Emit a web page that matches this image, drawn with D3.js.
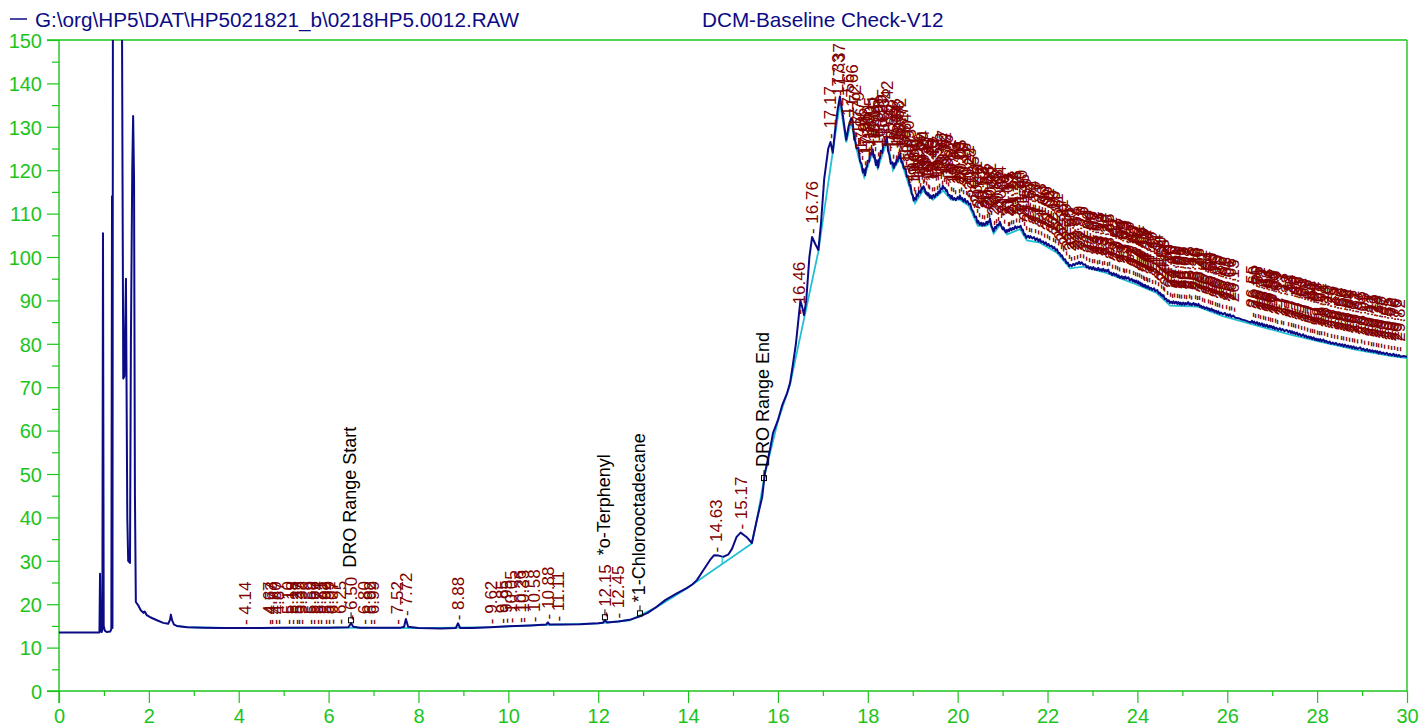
<!DOCTYPE html>
<html>
<head>
<meta charset="utf-8">
<script src="https://cdn.jsdelivr.net/npm/d3@7"></script>
<style>
  body { margin: 0; background: #fff; }
  svg { display: block; font-family: "Liberation Sans", Arial, sans-serif; }
</style>
</head>
<body>
<svg id="chart" width="1420" height="727"></svg>
<script>
// ---- header texts ----
const fileName = "G:\\org\\HP5\\DAT\\HP5021821_b\\0218HP5.0012.RAW";
const methodName = "DCM-Baseline Check-V12";

// ---- axis ticks ----
const xMajorTicks = d3.range(0, 31, 2);
const xMinorTicks = d3.range(1, 30, 2);
const yMajorTicks = d3.range(0, 151, 10);
const yMinorTicks = d3.range(5, 150, 10);

// ---- detector signal: [retention time (min), response] ----
const signal = [
  [0, 13.5], [0.90, 13.5], [0.913, 27], [0.93, 13.8], [0.95, 13.6], [0.965, 14.2], [0.979, 105.5],
  [0.995, 15], [1.02, 13.9], [1.06, 13.6], [1.14, 13.7], [1.165, 14.3], [1.18, 114], [1.19, 14.5],
  [1.20, 160], [1.40, 160], [1.43, 72], [1.455, 72.5], [1.49, 95], [1.52, 40], [1.54, 30],
  [1.58, 29.5], [1.60, 80], [1.63, 120], [1.65, 132.5], [1.67, 118], [1.69, 45], [1.71, 20.5],
  [1.76, 19.8], [1.82, 18.6], [1.88, 18.0], [1.91, 18.3], [1.95, 17.5], [2.03, 17.0], [2.18, 16.3],
  [2.32, 15.7], [2.43, 15.5], [2.47, 16.4], [2.49, 17.6], [2.52, 16.2], [2.56, 15.3], [2.62, 15.0],
  [2.85, 14.7], [3.2, 14.6], [3.6, 14.5], [4.0, 14.5], [4.5, 14.5], [5.0, 14.6], [5.5, 14.6],
  [6.0, 14.6], [6.44, 14.7], [6.50, 15.6], [6.55, 14.8], [6.7, 14.6], [7.2, 14.6], [7.6, 14.6],
  [7.68, 14.8], [7.72, 16.6], [7.77, 14.8], [8.0, 14.5], [8.5, 14.4], [8.83, 14.5], [8.88, 15.6],
  [8.93, 14.5], [9.2, 14.5], [9.6, 14.7], [10.0, 14.9], [10.5, 15.1], [10.84, 15.3], [10.88, 15.8],
  [10.92, 15.3], [11.2, 15.3], [11.6, 15.4], [12.0, 15.6], [12.1, 15.7], [12.15, 16.3], [12.2, 15.8],
  [12.45, 16.0], [12.7, 16.4], [12.93, 17.2], [13.1, 18.0], [13.3, 19.4], [13.5, 21.0], [13.75, 22.5],
  [13.97, 23.7], [14.1, 24.6], [14.2, 25.6], [14.35, 28.0], [14.49, 30.2], [14.58, 31.3], [14.68, 31.2],
  [14.78, 30.9], [14.9, 31.5], [14.98, 32.8], [15.08, 35.5], [15.17, 36.5], [15.3, 35.5], [15.42, 34.1],
  [15.53, 39.4], [15.65, 44.7], [15.71, 50.2], [15.82, 55.5], [15.89, 59.4], [16.0, 62.4], [16.1, 66.0],
  [16.2, 68.5], [16.27, 71.0], [16.33, 75.0], [16.40, 80.0], [16.46, 86.0], [16.50, 90.0], [16.54, 88.5],
  [16.58, 86.6], [16.63, 90.0], [16.7, 100.0], [16.76, 104.6], [16.83, 103.0], [16.9, 101.6], [16.96, 108.0],
  [17.03, 118.0], [17.12, 125.0], [17.17, 126.5], [17.22, 124.0], [17.27, 129.0], [17.33, 134.0],
  [17.38, 137.0], [17.44, 133.0], [17.52, 127.0], [17.57, 130.0], [17.63, 132.0], [17.66, 131.5],
  [17.70, 127.0], [17.72, 126.8], [17.75, 125.0], [17.79, 125.2], [17.83, 122.0], [17.86, 121.5],
  [17.89, 119.5], [17.91, 120.2], [17.94, 118.8], [17.96, 120.5], [17.98, 120.8], [18.00, 122.2],
  [18.03, 122.0], [18.05, 124.0], [18.08, 123.6], [18.11, 124.8], [18.13, 123.0], [18.15, 123.5],
  [18.18, 121.2], [18.20, 122.3], [18.23, 120.6], [18.25, 122.4], [18.27, 122.8], [18.29, 124.5],
  [18.32, 124.0], [18.35, 126.0], [18.39, 125.8], [18.42, 127.8], [18.45, 124.5], [18.48, 123.5],
  [18.51, 121.5], [18.55, 121.8], [18.58, 120.5], [18.60, 121.6], [18.62, 121.3], [18.64, 122.4],
  [18.66, 122.0], [18.68, 123.2], [18.70, 122.8], [18.72, 123.8], [18.75, 121.8], [18.77, 122.0],
  [18.80, 120.5], [18.84, 120.2], [18.87, 118.5], [18.90, 118.6], [18.93, 116.5], [18.95, 116.6],
  [18.98, 114.5], [19.00, 114.3], [19.02, 113.0], [19.04, 113.6], [19.07, 113.2], [19.09, 114.4],
  [19.11, 114.0], [19.14, 115.2], [19.17, 114.8], [19.20, 116.0], [19.22, 115.6], [19.24, 116.3],
  [19.27, 115.6], [19.29, 114.6], [19.31, 114.9], [19.33, 114.2], [19.35, 114.7], [19.38, 113.6],
  [19.40, 114.2], [19.43, 113.5], [19.46, 114.3], [19.49, 113.8], [19.52, 114.6], [19.55, 114.3],
  [19.57, 115.1], [19.60, 114.8], [19.62, 115.8], [19.65, 115.6], [19.67, 116.4], [19.70, 115.8],
  [19.72, 115.9], [19.74, 115.2], [19.76, 115.4], [19.79, 114.2], [19.82, 114.3], [19.85, 113.5],
  [19.87, 114.1], [19.90, 113.2], [19.93, 113.6], [19.96, 113.1], [20.00, 113.8], [20.03, 113.4],
  [20.05, 114.2], [20.08, 113.3], [20.10, 113.6], [20.13, 112.8], [20.16, 113.4], [20.19, 112.5],
  [20.22, 112.9], [20.25, 112.1], [20.28, 112.3], [20.31, 111.0], [20.35, 110.4], [20.38, 109.2],
  [20.41, 109.3], [20.44, 107.9], [20.46, 108.3], [20.49, 107.4], [20.52, 107.9], [20.55, 107.2],
  [20.57, 107.8], [20.60, 107.3], [20.64, 108.1], [20.66, 107.6], [20.68, 108.2], [20.70, 108.1],
  [20.72, 108.8], [20.75, 107.2], [20.78, 106.5], [20.80, 105.9], [20.83, 106.9], [20.85, 106.6],
  [20.88, 107.4], [20.91, 107.3], [20.94, 108.1], [20.97, 107.2], [21.00, 106.4], [21.02, 106.8],
  [21.05, 106.1], [21.07, 105.7], [21.09, 106.2], [21.11, 105.8], [21.13, 106.3], [21.15, 106.0],
  [21.17, 106.6], [21.20, 106.2], [21.22, 106.7], [21.25, 106.4], [21.28, 107.1], [21.31, 106.6],
  [21.34, 107.0], [21.37, 106.8], [21.40, 107.2], [21.43, 106.2], [21.45, 106.3], [21.48, 105.1],
  [21.50, 105.3], [21.53, 104.4], [21.57, 104.9], [21.60, 104.4], [21.62, 104.8], [21.66, 104.3],
  [21.70, 104.6], [21.73, 103.9], [21.77, 104.3], [21.80, 103.6], [21.83, 104.1], [21.86, 103.4],
  [21.90, 103.6], [21.93, 103.0], [21.96, 103.4], [21.99, 102.7], [22.02, 103.0], [22.05, 102.4],
  [22.09, 102.6], [22.12, 102.0], [22.15, 102.3], [22.18, 101.5], [22.21, 101.8], [22.24, 100.9],
  [22.27, 100.9], [22.30, 100.2], [22.32, 100.4], [22.36, 99.4], [22.39, 99.5], [22.42, 98.6],
  [22.45, 98.7], [22.48, 97.9], [22.50, 98.2], [22.54, 97.9], [22.57, 98.4], [22.60, 98.1],
  [22.64, 98.6], [22.67, 98.4], [22.70, 98.9], [22.73, 98.4], [22.76, 98.8], [22.80, 98.2],
  [22.84, 98.3], [22.87, 97.6], [22.90, 97.9], [22.93, 97.3], [22.96, 97.7], [22.99, 97.2],
  [23.02, 97.7], [23.05, 97.1], [23.07, 97.4], [23.10, 97.0], [23.13, 97.5], [23.16, 96.9],
  [23.19, 97.2], [23.21, 96.8], [23.24, 97.3], [23.27, 96.7], [23.30, 97.0], [23.32, 96.7],
  [23.35, 97.1], [23.38, 96.2], [23.41, 96.4], [23.44, 95.8], [23.47, 96.3], [23.50, 95.8],
  [23.53, 96.1], [23.56, 95.4], [23.58, 95.8], [23.61, 95.2], [23.65, 95.6], [23.67, 95.1],
  [23.69, 95.4], [23.71, 95.0], [23.73, 95.5], [23.76, 95.0], [23.80, 95.3], [23.83, 94.6],
  [23.87, 95.0], [23.90, 94.4], [23.92, 94.7], [23.95, 94.2], [23.97, 94.6], [24.00, 94.0],
  [24.02, 94.4], [24.04, 93.8], [24.06, 94.1], [24.08, 93.5], [24.10, 93.9], [24.12, 93.3],
  [24.13, 93.6], [24.15, 93.2], [24.17, 93.6], [24.19, 93.0], [24.20, 93.3], [24.22, 92.9],
  [24.24, 93.3], [24.27, 92.6], [24.30, 92.9], [24.33, 92.4], [24.37, 92.8], [24.40, 92.1],
  [24.44, 92.4], [24.47, 91.6], [24.50, 91.8], [24.52, 91.2], [24.54, 91.4], [24.56, 90.9],
  [24.58, 91.2], [24.61, 90.3], [24.64, 90.4], [24.67, 89.8], [24.70, 90.0], [24.72, 89.4],
  [24.75, 89.7], [24.78, 89.3], [24.80, 89.8], [24.83, 89.3], [24.86, 89.7], [24.89, 89.2],
  [24.91, 89.6], [24.94, 89.1], [24.96, 89.5], [24.99, 89.0], [25.02, 89.5], [25.05, 89.0],
  [25.07, 89.4], [25.10, 89.1], [25.13, 89.6], [25.16, 89.0], [25.18, 89.3], [25.21, 88.9],
  [25.25, 89.4], [25.28, 88.9], [25.30, 89.2], [25.33, 88.8], [25.36, 89.2], [25.39, 88.5],
  [25.41, 88.8], [25.44, 88.3], [25.47, 88.6], [25.50, 88.1], [25.54, 88.4], [25.57, 87.9],
  [25.59, 88.2], [25.62, 87.7], [25.65, 88.1], [25.67, 87.6], [25.70, 87.8], [25.72, 87.3],
  [25.75, 87.6], [25.78, 87.1], [25.80, 87.5], [25.83, 86.9], [25.86, 87.2], [25.90, 86.8],
  [25.95, 87.1], [25.98, 86.5], [26.01, 86.8], [26.03, 86.4], [26.06, 86.8], [26.09, 86.2],
  [26.13, 86.5], [26.18, 86.0], [26.25, 85.9], [26.32, 85.6], [26.40, 85.4], [26.47, 85.1],
  [26.52, 84.9], [26.55, 85.3], [26.58, 84.8], [26.60, 85.1], [26.63, 84.6], [26.66, 85.0],
  [26.69, 84.4], [26.71, 84.8], [26.74, 84.3], [26.77, 84.7], [26.80, 84.1], [26.82, 84.5],
  [26.85, 84.0], [26.88, 84.4], [26.91, 83.8], [26.94, 84.2], [26.96, 83.8], [26.98, 84.1],
  [27.01, 83.6], [27.03, 84.0], [27.06, 83.4], [27.09, 83.7], [27.13, 83.2], [27.17, 83.6],
  [27.20, 83.1], [27.23, 83.4], [27.27, 82.9], [27.32, 83.2], [27.36, 82.7], [27.39, 83.0],
  [27.42, 82.5], [27.44, 82.9], [27.47, 82.4], [27.49, 82.7], [27.52, 82.2], [27.55, 82.6],
  [27.58, 82.0], [27.61, 82.3], [27.65, 81.8], [27.69, 82.2], [27.72, 81.6], [27.75, 81.9],
  [27.78, 81.4], [27.81, 81.7], [27.84, 81.3], [27.86, 81.6], [27.89, 81.1], [27.92, 81.5],
  [27.95, 80.9], [27.98, 81.2], [28.00, 80.8], [28.02, 81.1], [28.05, 80.7], [28.07, 81.1],
  [28.10, 80.6], [28.14, 81.0], [28.17, 80.4], [28.20, 80.7], [28.24, 80.2], [28.28, 80.5],
  [28.31, 80.0], [28.35, 80.3], [28.38, 79.9], [28.42, 80.2], [28.46, 79.7], [28.50, 80.0],
  [28.53, 79.6], [28.56, 79.9], [28.59, 79.4], [28.62, 79.8], [28.66, 79.3], [28.69, 79.6],
  [28.72, 79.2], [28.75, 79.5], [28.78, 79.0], [28.81, 79.4], [28.84, 78.9], [28.87, 79.2],
  [28.90, 78.8], [28.93, 79.0], [28.96, 79.2], [28.99, 78.6], [29.03, 78.9], [29.07, 78.4],
  [29.11, 78.8], [29.14, 78.3], [29.17, 78.6], [29.20, 78.2], [29.23, 78.5], [29.26, 78.1],
  [29.29, 78.4], [29.32, 78.0], [29.34, 78.3], [29.37, 77.8], [29.40, 78.2], [29.44, 77.7],
  [29.47, 78.0], [29.51, 77.6], [29.55, 77.9], [29.59, 77.4], [29.62, 77.7], [29.66, 77.3],
  [29.70, 77.7], [29.73, 77.2], [29.76, 77.5], [29.79, 77.1], [29.82, 77.4], [29.86, 77.0],
  [29.92, 77.2], [30.00, 77.0]
];

// ---- integration baseline ----
const baseline = [
  [2.62, 15.0], [2.85, 14.7], [4.0, 14.5], [6.0, 14.6], [8.0, 14.5], [9.6, 14.7], [10.5, 15.1],
  [12.0, 15.6], [12.7, 16.3], [13.3, 19.3], [13.97, 23.6], [15.42, 34.0], [15.53, 39.3],
  [15.71, 50.0], [16.0, 62.2], [16.27, 70.6], [16.9, 101.3], [17.38, 135.6], [17.52, 126.4],
  [17.63, 131.2], [17.78, 123.5], [17.92, 118.4], [18.10, 123.9], [18.22, 120.4], [18.43, 126.8],
  [18.56, 120.0], [18.72, 122.8], [18.95, 115.4], [19.05, 112.4], [19.23, 115.3], [19.45, 113.2],
  [19.68, 115.3], [19.85, 113.2], [20.05, 113.2], [20.25, 111.8], [20.45, 107.2], [20.64, 107.2],
  [20.72, 107.8], [20.80, 105.4], [20.94, 107.4], [21.10, 105.2], [21.39, 106.4], [21.54, 103.8],
  [21.83, 103.3], [22.21, 101.0], [22.50, 97.4], [22.80, 97.8], [23.32, 96.3], [23.90, 94.0],
  [24.43, 91.7], [24.73, 88.8], [25.33, 88.6], [25.90, 86.4], [26.66, 84.2], [27.40, 82.1],
  [28.13, 80.3], [28.88, 78.6], [29.62, 77.2], [30.00, 76.7]
];

// ---- integrated peak retention times (min) ----
const peakTimes = [
  4.14, 4.67, 4.73, 4.80, 4.87, 5.10, 5.18, 5.27, 5.33, 5.38, 5.59, 5.66, 5.74, 5.81, 5.92, 5.99,
  6.07, 6.25, 6.50, 6.80, 6.92, 6.99, 7.52, 7.72, 8.88, 9.62, 9.85, 9.95, 10.05, 10.26, 10.33,
  10.58, 10.88, 11.11, 12.15, 12.45, 14.63, 15.17,
  16.46, 16.76, 17.17, 17.33, 17.37, 17.56, 17.66, 17.72, 17.79, 17.86, 17.91, 17.96, 18.00,
  18.05, 18.11, 18.15, 18.20, 18.25, 18.29, 18.35, 18.42, 18.48, 18.55, 18.60, 18.64, 18.68,
  18.72, 18.77, 18.84, 18.90, 18.95, 19.00, 19.04, 19.09, 19.14, 19.20, 19.24, 19.27, 19.31,
  19.35, 19.40, 19.46, 19.52, 19.57, 19.62, 19.67, 19.72, 19.76, 19.82, 19.87, 19.93, 20.00,
  20.05, 20.10, 20.16, 20.22, 20.28, 20.35, 20.41, 20.46, 20.52, 20.57, 20.64, 20.68, 20.72,
  20.78, 20.83, 20.88, 20.94, 21.02, 21.09, 21.13, 21.17, 21.22, 21.28, 21.34, 21.40, 21.45,
  21.50, 21.57, 21.62, 21.70, 21.77, 21.83, 21.90, 21.96, 22.02, 22.09, 22.15, 22.21, 22.27,
  22.32, 22.39, 22.45, 22.50, 22.57, 22.64, 22.70, 22.76, 22.84, 22.90, 22.96, 23.02, 23.07,
  23.13, 23.19, 23.24, 23.30, 23.35, 23.41, 23.47, 23.53, 23.58, 23.65, 23.69, 23.73, 23.80,
  23.87, 23.92, 23.97, 24.02, 24.06, 24.10, 24.13, 24.17, 24.20, 24.24, 24.30, 24.37, 24.44,
  24.50, 24.54, 24.58, 24.64, 24.70, 24.75, 24.80, 24.86, 24.91, 24.96, 25.02, 25.07, 25.13,
  25.18, 25.25, 25.30, 25.36, 25.41, 25.47, 25.54, 25.59, 25.65, 25.70, 25.75, 25.80, 25.86,
  25.95, 26.01, 26.06, 26.13, 26.55, 26.60, 26.66, 26.71, 26.77, 26.82, 26.88, 26.94, 26.98,
  27.03, 27.09, 27.17, 27.23, 27.32, 27.39, 27.44, 27.49, 27.55, 27.61, 27.69, 27.75, 27.81,
  27.86, 27.92, 27.98, 28.02, 28.07, 28.14, 28.20, 28.28, 28.35, 28.42, 28.50, 28.56, 28.62,
  28.69, 28.75, 28.81, 28.87, 28.96, 29.03, 29.11, 29.17, 29.23, 29.29, 29.34, 29.40, 29.47,
  29.55, 29.62, 29.70, 29.76, 29.82
];

// ---- named events ----
const eventTimes = [6.50, 12.15, 12.93, 15.69];
const eventNames = ["DRO Range Start", "*o-Terphenyl", "*1-Chlorooctadecane", "DRO Range End"];

// ---- layout ----
const svg = d3.select("#chart");
const plotLeft = 59, plotRight = 1407, plotTop = 40, plotBottom = 691;
const green = "#1cc41c", navy = "#0b0b86", cyan = "#22c0d2", maroon = "#800000";

const x = d3.scaleLinear().domain([0, 30]).range([plotLeft, plotRight]);
const y = d3.scaleLinear().domain([0, 150]).range([plotBottom, plotTop]);

const bis = d3.bisector(d => d[0]).left;
function traceAt(t) {
  const i = bis(signal, t);
  if (i <= 0) return signal[0][1];
  if (i >= signal.length) return signal[signal.length - 1][1];
  const a = signal[i - 1], b = signal[i];
  return a[1] + (b[1] - a[1]) * (t - a[0]) / (b[0] - a[0]);
}

// header
svg.append("line").attr("x1", 10).attr("x2", 27).attr("y1", 19).attr("y2", 19)
  .attr("stroke", navy).attr("stroke-width", 1.5);
svg.append("text").attr("x", 35).attr("y", 27).attr("font-size", 20.7).attr("fill", navy).text(fileName);
svg.append("text").attr("x", 702).attr("y", 27).attr("font-size", 20.7).attr("fill", navy).text(methodName);

// axes
const axisG = svg.append("g");
axisG.append("g").attr("transform", `translate(0,${plotBottom})`)
  .call(d3.axisBottom(x).tickValues(xMajorTicks).tickSize(12).tickPadding(6).tickFormat(d3.format("d")));
axisG.append("g").attr("transform", `translate(0,${plotBottom})`)
  .call(d3.axisBottom(x).tickValues(xMinorTicks).tickSize(5).tickFormat(""));
const yMajor = axisG.append("g").attr("transform", `translate(${plotLeft},0)`)
  .call(d3.axisLeft(y).tickValues(yMajorTicks).tickSize(12).tickPadding(5).tickFormat(d3.format("d")));
axisG.append("g").attr("transform", `translate(${plotLeft},0)`)
  .call(d3.axisLeft(y).tickValues(yMinorTicks).tickSize(7).tickFormat(""));
axisG.selectAll(".domain").remove();
axisG.selectAll(".tick line").attr("stroke", green).attr("stroke-width", 1.2);
axisG.selectAll(".tick text").attr("fill", green).attr("font-size", 20)
  .attr("font-family", "'Liberation Sans', Arial, sans-serif");
yMajor.selectAll(".tick text").attr("dy", "0.36em");

// frame lines
axisG.append("line").attr("x1", plotLeft - 12).attr("x2", plotRight).attr("y1", plotBottom).attr("y2", plotBottom)
  .attr("stroke", green).attr("stroke-width", 1.4);
axisG.append("line").attr("x1", plotLeft - 12).attr("x2", plotRight).attr("y1", plotTop).attr("y2", plotTop)
  .attr("stroke", green).attr("stroke-width", 1.4);
axisG.append("line").attr("x1", plotLeft).attr("x2", plotLeft).attr("y1", plotTop).attr("y2", plotBottom + 12)
  .attr("stroke", green).attr("stroke-width", 1.4);
axisG.append("line").attr("x1", plotRight).attr("x2", plotRight).attr("y1", plotTop).attr("y2", plotBottom)
  .attr("stroke", green).attr("stroke-width", 1.4);

// traces, clipped to the plot frame
svg.append("clipPath").attr("id", "plotClip").append("rect")
  .attr("x", plotLeft).attr("y", plotTop).attr("width", plotRight - plotLeft).attr("height", plotBottom - plotTop);
const plot = svg.append("g").attr("clip-path", "url(#plotClip)");
const line = d3.line().x(d => x(d[0])).y(d => y(d[1]));

plot.append("path").datum(baseline).attr("d", line)
  .attr("fill", "none").attr("stroke", cyan).attr("stroke-width", 1.8);
plot.append("path").datum(signal).attr("d", line)
  .attr("fill", "none").attr("stroke", navy).attr("stroke-width", 2).attr("stroke-linejoin", "round");
// drop line between the two late humps
plot.append("line").attr("x1", x(14.76)).attr("x2", x(14.76))
  .attr("y1", y(traceAt(14.76))).attr("y2", y(29.2)).attr("stroke", cyan).attr("stroke-width", 1.2);

// retention time labels
const labelG = svg.append("g");
const rtLabels = labelG.selectAll("text").data(peakTimes).join("text")
  .attr("transform", d => `translate(${x(d)},${y(traceAt(d)) - 3}) rotate(-90)`)
  .attr("dy", "0.35em")
  .attr("font-size", 17)
  .attr("fill", maroon)
  .text(d => "- " + d.toFixed(2));

const labelLen = new Map();
rtLabels.each(function (d) { labelLen.set(d.toFixed(2), this.getComputedTextLength()); });

// named events: marker + black label stacked above any time label at the same spot
const evG = svg.append("g");
eventTimes.forEach((t, i) => {
  const px = x(t), py = y(traceAt(t));
  evG.append("rect").attr("x", px - 2.5).attr("y", py - 5.5).attr("width", 5).attr("height", 5)
    .attr("fill", "none").attr("stroke", "#000").attr("stroke-width", 1);
  evG.append("line").attr("x1", px).attr("x2", px).attr("y1", py - 5.5).attr("y2", py - 11)
    .attr("stroke", "#000").attr("stroke-width", 1);
  const key = t.toFixed(2);
  const start = labelLen.has(key) ? py - 3 - labelLen.get(key) - 9 : py - 14;
  evG.append("text")
    .attr("transform", `translate(${px - 1},${start}) rotate(-90)`)
    .attr("dy", "0.35em").attr("font-size", 18).attr("fill", "#000")
    .text(eventNames[i]);
});
</script>
</body>
</html>
